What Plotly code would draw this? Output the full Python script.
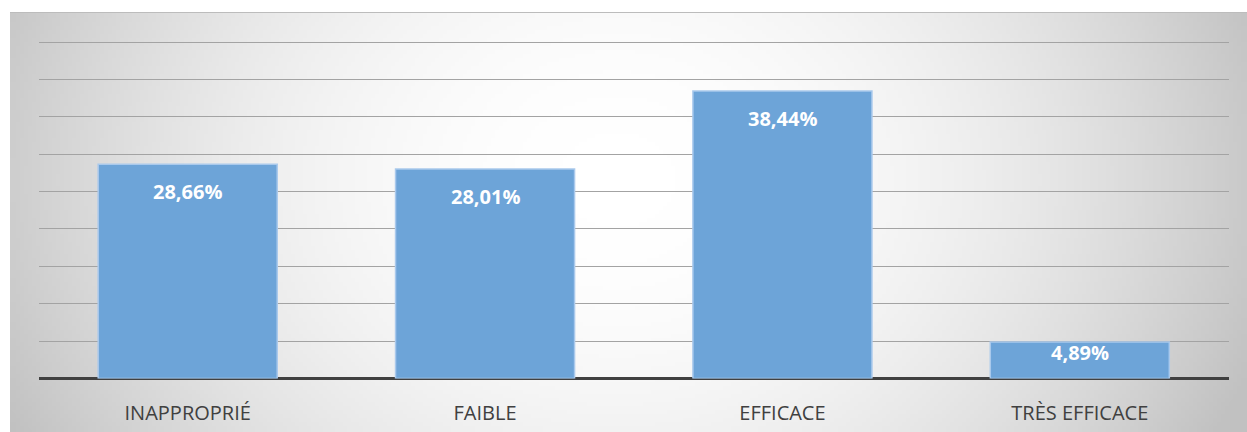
import plotly.graph_objects as go
import zlib, struct, base64, math

categories = ["INAPPROPRIÉ", "FAIBLE", "EFFICACE", "TRÈS EFFICACE"]
values = [28.66, 28.01, 38.44, 4.89]
labels = ["28,66%", "28,01%", "38,44%", "4,89%"]

W, H = 1247, 432

# ---- background gradient image (decoration) ----
def make_png(w, h):
    rows = []
    cx, cy = 0.49 * w, 0.40 * h
    ax, ay = 0.52 * w, 1.25 * h
    for j in range(h):
        row = bytearray([0])
        for i in range(w):
            dx = (i + 0.5 - cx) / ax
            dy = (j + 0.5 - cy) / ay
            d2 = min(dx * dx + dy * dy, 1.1)
            v = int(round(255 - 56 * d2))
            row.append(max(0, min(255, v)))
        rows.append(bytes(row))
    raw = b"".join(rows)
    def chunk(t, d):
        c = struct.pack(">I", len(d)) + t + d
        return c + struct.pack(">I", zlib.crc32(t + d) & 0xFFFFFFFF)
    png = (b"\x89PNG\r\n\x1a\n"
           + chunk(b"IHDR", struct.pack(">IIBBBBB", w, h, 8, 0, 0, 0, 0))
           + chunk(b"IDAT", zlib.compress(raw, 9))
           + chunk(b"IEND", b""))
    return "data:image/png;base64," + base64.b64encode(png).decode()

bg = make_png(310, 105)

fig = go.Figure()
fig.add_trace(go.Bar(
    x=categories, y=values,
    marker=dict(color="#6DA4D8", line=dict(color="#A9C9EC", width=1.5)),
    hoverinfo="skip",
))

for c, v, t in zip(categories, values, labels):
    fig.add_annotation(x=c, y=v, xref="x", yref="y", text=t, showarrow=False,
                       yanchor="middle", yshift=-27 if v >= 10 else -11,
                       font=dict(family="Open Sans", size=20, color="white", weight="bold"))

ppu = (378.5 - 42) / 45.0  # pixels per percent
ytop = 46.0

fig.update_layout(
    width=W, height=H,
    margin=dict(l=0, r=0, t=0, b=0),
    paper_bgcolor="white",
    plot_bgcolor="rgba(0,0,0,0)",
    bargap=0.398,
    showlegend=False,
    images=[dict(source=bg, xref="paper", yref="paper", x=10 / W, y=(H - 12) / H,
                 sizex=(W - 10) / W, sizey=(H - 12) / H, sizing="stretch",
                 xanchor="left", yanchor="top", layer="below")],
    shapes=[dict(type="line", xref="paper", yref="paper", x0=10 / W, x1=1,
                 y0=(H - 12.5) / H, y1=(H - 12.5) / H,
                 line=dict(color="#bcbcbc", width=1), layer="below")],
    xaxis=dict(domain=[39 / W, 1228.5 / W], showgrid=False, zeroline=False,
               showline=False, ticks="outside", ticklen=16, tickcolor="rgba(0,0,0,0)",
               tickfont=dict(family="Open Sans", size=20, color="#404040")),
    yaxis=dict(domain=[(H - 378.5) / H, (H - (42 - (ytop - 45) * ppu)) / H],
               range=[0, ytop], tickmode="linear", tick0=0, dtick=5,
               showgrid=True, gridcolor="#a3a3a3", gridwidth=1,
               showticklabels=False, zeroline=True, zerolinecolor="#404040",
               zerolinewidth=3, showline=False),
)

fig.write_html("out.html", config={"displayModeBar": False},
               post_script="document.body.style.margin='0';document.body.style.padding='0';document.body.style.overflow='hidden';")
